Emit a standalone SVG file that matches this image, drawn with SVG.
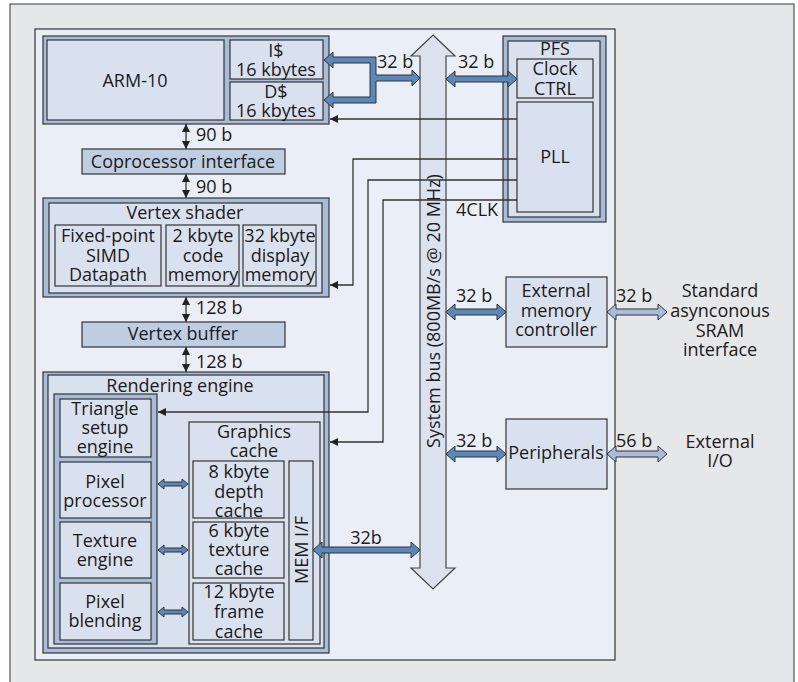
<svg xmlns="http://www.w3.org/2000/svg" width="798" height="682" viewBox="0 0 798 682">
<defs>
<style>
text{font-family:"Open Sans","Noto Sans","Liberation Sans",sans-serif;font-size:18px;fill:#1a1a1a}
.m{text-anchor:middle}
.bg{fill:#e6e7e9;stroke:#555;stroke-width:1.2}
.chip{fill:#eaeff7;stroke:#333;stroke-width:1.2}
.frame{fill:#a8bcd9;stroke:#333;stroke-width:1.2}
.box{fill:#dae1ee;stroke:#333;stroke-width:1.2}
.dbox{fill:#bfcde3;stroke:#333;stroke-width:1.2}
.bus{fill:#dbe2ee;stroke:#444;stroke-width:1.2}
.ba{fill:#5b87ba;stroke:#333;stroke-width:1}
.la{fill:#a8bddb;stroke:#333;stroke-width:1}
.wire{fill:none;stroke:#333;stroke-width:1.3}
</style>
<marker id="tri" viewBox="0 0 10 10" refX="10" refY="5" markerUnits="userSpaceOnUse" markerWidth="9" markerHeight="8" orient="auto-start-reverse">
<path d="M0,0 L10,5 L0,10 z" fill="#222"/>
</marker>
</defs>

<rect class="bg" x="10" y="4" width="784" height="682"/>
<rect class="chip" x="35" y="29" width="580" height="631"/>

<!-- System bus -->
<g id="system-bus">
<polygon class="bus" points="433,35 455,56 446,56 446,568 455,568 433,589 411,568 420,568 420,56 411,56"/>
<text transform="translate(440,311) rotate(-90)" class="m" font-size="19.5">System bus (800MB/s @ 20 MHz)</text>
</g>

<g id="arm">
<rect class="frame" x="43" y="36" width="286" height="88"/>
<rect class="box" x="47" y="40" width="177" height="80"/>
<text class="m" x="135" y="87" font-size="20">ARM-10</text>
</g>
<g id="icache">
<rect class="box" x="230" y="40" width="93" height="39"/>
<text class="m" x="276" y="57">I$</text>
<text class="m" x="276" y="76">16 kbytes</text>
</g>
<g id="dcache">
<rect class="box" x="230" y="82" width="93" height="38"/>
<text class="m" x="276" y="98">D$</text>
<text class="m" x="276" y="117">16 kbytes</text>
</g>

<g id="coprocessor">
<rect class="dbox" x="82" y="149" width="203" height="25"/>
<text class="m" x="183" y="168">Coprocessor interface</text>
</g>

<g id="vertex-shader">
<rect class="frame" x="43" y="198" width="286" height="99"/>
<rect class="box" x="49" y="203" width="273" height="90"/>
<text class="m" x="185" y="219">Vertex shader</text>
<rect class="box" x="55" y="225" width="106" height="61"/>
<text class="m" x="108" y="242">Fixed-point</text>
<text class="m" x="108" y="262">SIMD</text>
<text class="m" x="108" y="281">Datapath</text>
<rect class="box" x="166" y="225" width="73" height="61"/>
<text class="m" x="203" y="242">2 kbyte</text>
<text class="m" x="203" y="262">code</text>
<text class="m" x="203" y="281">memory</text>
<rect class="box" x="243" y="225" width="73" height="61"/>
<text class="m" x="280" y="242">32 kbyte</text>
<text class="m" x="280" y="262">display</text>
<text class="m" x="280" y="281">memory</text>
</g>

<g id="vertex-buffer">
<rect class="dbox" x="82" y="322" width="203" height="25"/>
<text class="m" x="183" y="340">Vertex buffer</text>
</g>

<g id="rendering-engine">
<rect class="frame" x="43" y="372" width="286" height="281"/>
<rect class="box" x="48" y="375" width="276" height="273"/>
<text class="m" x="180" y="392">Rendering engine</text>
<rect class="frame" x="54" y="394" width="103" height="250"/>
</g>
<g id="triangle-setup">
<rect class="box" x="60" y="399" width="91" height="58"/>
<text class="m" x="105" y="415">Triangle</text>
<text class="m" x="105" y="434">setup</text>
<text class="m" x="105" y="453">engine</text>
</g>
<g id="pixel-processor">
<rect class="box" x="60" y="462" width="91" height="56"/>
<text class="m" x="105" y="488">Pixel</text>
<text class="m" x="105" y="507">processor</text>
</g>
<g id="texture-engine">
<rect class="box" x="60" y="522" width="91" height="56"/>
<text class="m" x="105" y="547">Texture</text>
<text class="m" x="105" y="566">engine</text>
</g>
<g id="pixel-blending">
<rect class="box" x="60" y="583" width="91" height="57"/>
<text class="m" x="105" y="608">Pixel</text>
<text class="m" x="105" y="627">blending</text>
</g>
<g id="graphics-cache">
<rect class="box" x="189" y="422" width="131" height="222"/>
<text class="m" x="254" y="438">Graphics</text>
<text class="m" x="254" y="457">cache</text>
</g>
<g id="depth-cache">
<rect class="box" x="193" y="461" width="91" height="57"/>
<text class="m" x="239" y="478">8 kbyte</text>
<text class="m" x="239" y="498">depth</text>
<text class="m" x="239" y="517">cache</text>
</g>
<g id="texture-cache">
<rect class="box" x="193" y="522" width="91" height="56"/>
<text class="m" x="239" y="537">6 kbyte</text>
<text class="m" x="239" y="556">texture</text>
<text class="m" x="239" y="575">cache</text>
</g>
<g id="frame-cache">
<rect class="box" x="193" y="583" width="91" height="57"/>
<text class="m" x="239" y="598">12 kbyte</text>
<text class="m" x="239" y="618">frame</text>
<text class="m" x="239" y="638">cache</text>
</g>
<g id="mem-if">
<rect class="box" x="289" y="461" width="24" height="179"/>
<text class="m" transform="translate(308,550) rotate(-90)">MEM I/F</text>
</g>

<g id="pfs">
<rect class="frame" x="503" y="36" width="103" height="186"/>
<rect class="box" x="508" y="41" width="92" height="176"/>
<text class="m" x="555" y="55">PFS</text>
</g>
<g id="clock-ctrl">
<rect class="box" x="517" y="59" width="76" height="39"/>
<text class="m" x="555" y="75">Clock</text>
<text class="m" x="555" y="95">CTRL</text>
</g>
<g id="pll">
<rect class="box" x="517" y="102" width="76" height="110"/>
<text class="m" x="555" y="163">PLL</text>
</g>

<g id="ext-mem-ctrl">
<rect class="box" x="506" y="277" width="101" height="70"/>
<text class="m" x="556" y="297">External</text>
<text class="m" x="556" y="317">memory</text>
<text class="m" x="556" y="336">controller</text>
</g>
<g id="peripherals">
<rect class="box" x="506" y="419" width="101" height="70"/>
<text class="m" x="556" y="459">Peripherals</text>
</g>

<g id="sram-if">
<text class="m" x="720" y="297">Standard</text>
<text class="m" x="720" y="317">asynconous</text>
<text class="m" x="720" y="337">SRAM</text>
<text class="m" x="720" y="356">interface</text>
</g>
<g id="external-io">
<text class="m" x="720" y="448">External</text>
<text class="m" x="720" y="467">I/O</text>
</g>

<g id="connectors">
<polygon class="ba" points="324,60 333,52 333,57 376,57 376,75 412,75 412,70 420,78 412,86 412,81 376,81 376,103 333,103 333,108 324,100 333,92 333,97 370,97 370,63 333,63 333,68"/>
<polygon class="ba" points="446,79 455,71 455,76 508,76 508,71 517,79 508,87 508,82 455,82 455,87"/>
<polygon class="ba" points="446,312 455,304 455,309 497,309 497,304 506,312 497,320 497,315 455,315 455,320"/>
<polygon class="ba" points="446,454 455,446 455,451 497,451 497,446 506,454 497,462 497,457 455,457 455,462"/>
<polygon class="la" points="607,312 616,304 616,309 658,309 658,304 667,312 658,320 658,315 616,315 616,320"/>
<polygon class="la" points="607,454 616,446 616,451 658,451 658,446 667,454 658,462 658,457 616,457 616,462"/>
<polygon class="ba" points="313,550 322,542 322,547 411,547 411,542 420,550 411,558 411,553 322,553 322,558"/>
<polygon class="ba" points="158,484 164,479 164,482 182,482 182,479 188,484 182,489 182,486 164,486 164,489"/>
<polygon class="ba" points="158,550 164,545 164,548 182,548 182,545 188,550 182,555 182,552 164,552 164,555"/>
<polygon class="ba" points="158,612 164,607 164,610 182,610 182,607 188,612 182,617 182,614 164,614 164,617"/>
<line class="wire" x1="186" y1="124" x2="186" y2="149" marker-start="url(#tri)" marker-end="url(#tri)"/>
<line class="wire" x1="186" y1="174" x2="186" y2="198" marker-start="url(#tri)" marker-end="url(#tri)"/>
<line class="wire" x1="186" y1="297" x2="186" y2="322" marker-start="url(#tri)" marker-end="url(#tri)"/>
<line class="wire" x1="186" y1="347" x2="186" y2="372" marker-start="url(#tri)" marker-end="url(#tri)"/>
<path class="wire" d="M517,119 H330" marker-end="url(#tri)"/>
<path class="wire" d="M517,159 H353 V285 H330" marker-end="url(#tri)"/>
<path class="wire" d="M517,180 H368 V412 H158" marker-end="url(#tri)"/>
<path class="wire" d="M517,200 H383 V442 H330" marker-end="url(#tri)"/>
<text x="196" y="141">90 b</text>
<text x="196" y="193">90 b</text>
<text x="196" y="314">128 b</text>
<text x="196" y="368">128 b</text>
<text x="377" y="68">32 b</text>
<text x="458" y="68">32 b</text>
<text x="456" y="216">4CLK</text>
<text x="456" y="302">32 b</text>
<text x="616" y="302">32 b</text>
<text x="456" y="447">32 b</text>
<text x="616" y="447">56 b</text>
<text class="m" x="366" y="544">32b</text>
</g>
</svg>
